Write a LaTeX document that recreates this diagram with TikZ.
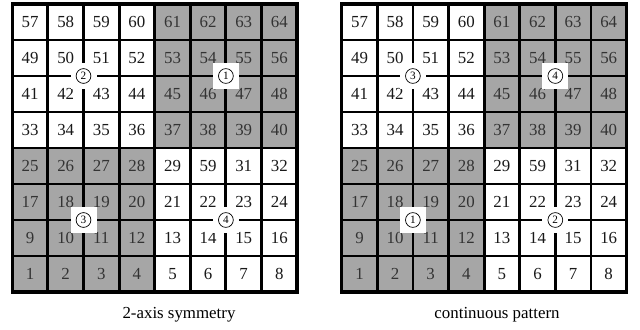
\documentclass[tikz,border=0pt]{standalone}
\usepackage{fontspec}
\setmainfont{Liberation Serif}
\usepackage{tikz}
\usetikzlibrary{positioning}
\definecolor{cellgray}{RGB}{166,166,166}

\begin{document}
\begin{tikzpicture}[
  font=\fontsize{12}{14}\selectfont,
  cell/.style={draw, line width=2pt, minimum width=0.89cm, minimum height=0.90cm, inner sep=0pt, outer sep=0pt},
  light/.style={cell, fill=white, text=black!90},
  dark/.style={cell, fill=cellgray, text=black!80},
  border/.style={line width=2.4pt},
  markbox/.style={fill=white, minimum width=0.65cm, minimum height=0.63cm, inner sep=0pt},
  markring/.style={circle, draw, line width=0.5pt, minimum size=0.37cm, inner sep=0pt, font=\fontsize{8}{9}\selectfont},
  caption/.style={font=\fontsize{12}{14}\selectfont}
]
\useasboundingbox (0,0) rectangle (16,-8.225);
\foreach \gx/\g in {0.3075/L,8.5425/R} {
  \foreach \j in {0,...,7} {
    \foreach \i in {0,...,7} {
      \pgfmathtruncatemacro\num{(7-\j)*8+\i+1}
      \ifnum\num=30 \def\num{59}\fi
      \pgfmathtruncatemacro\half{(\i>3)+(\j<4)}
      \ifnum\half=1 \def\sty{light}\else\def\sty{dark}\fi
      \node[\sty] (\g-\i-\j) at (\gx+\i*0.89+0.445,-0.1-\j*0.90-0.45) {\num};
    }
  }
  \draw[border] (\g-0-0.north west) rectangle (\g-7-7.south east);
}

\node[markbox] (L2) at (L-1-1.south east) {};
\node[markring] at (L2) {2};
\node[markbox] (L1) at (L-5-1.south east) {};
\node[markring] at (L1) {1};
\node[markbox] (L3) at (L-1-5.south east) {};
\node[markring] at (L3) {3};
\node[markbox] (L4) at (L-5-5.south east) {};
\node[markring] at (L4) {4};

\node[markbox] (R3) at (R-1-1.south east) {};
\node[markring] at (R3) {3};
\node[markbox] (R4) at (R-5-1.south east) {};
\node[markring] at (R4) {4};
\node[markbox] (R1) at (R-1-5.south east) {};
\node[markring] at (R1) {1};
\node[markbox] (R2) at (R-5-5.south east) {};
\node[markring] at (R2) {2};

\node[caption] (capL) at (4.475,-7.875) {2-axis symmetry};
\node[caption] (capR) at (12.425,-7.875) {continuous pattern};
\end{tikzpicture}
\end{document}
